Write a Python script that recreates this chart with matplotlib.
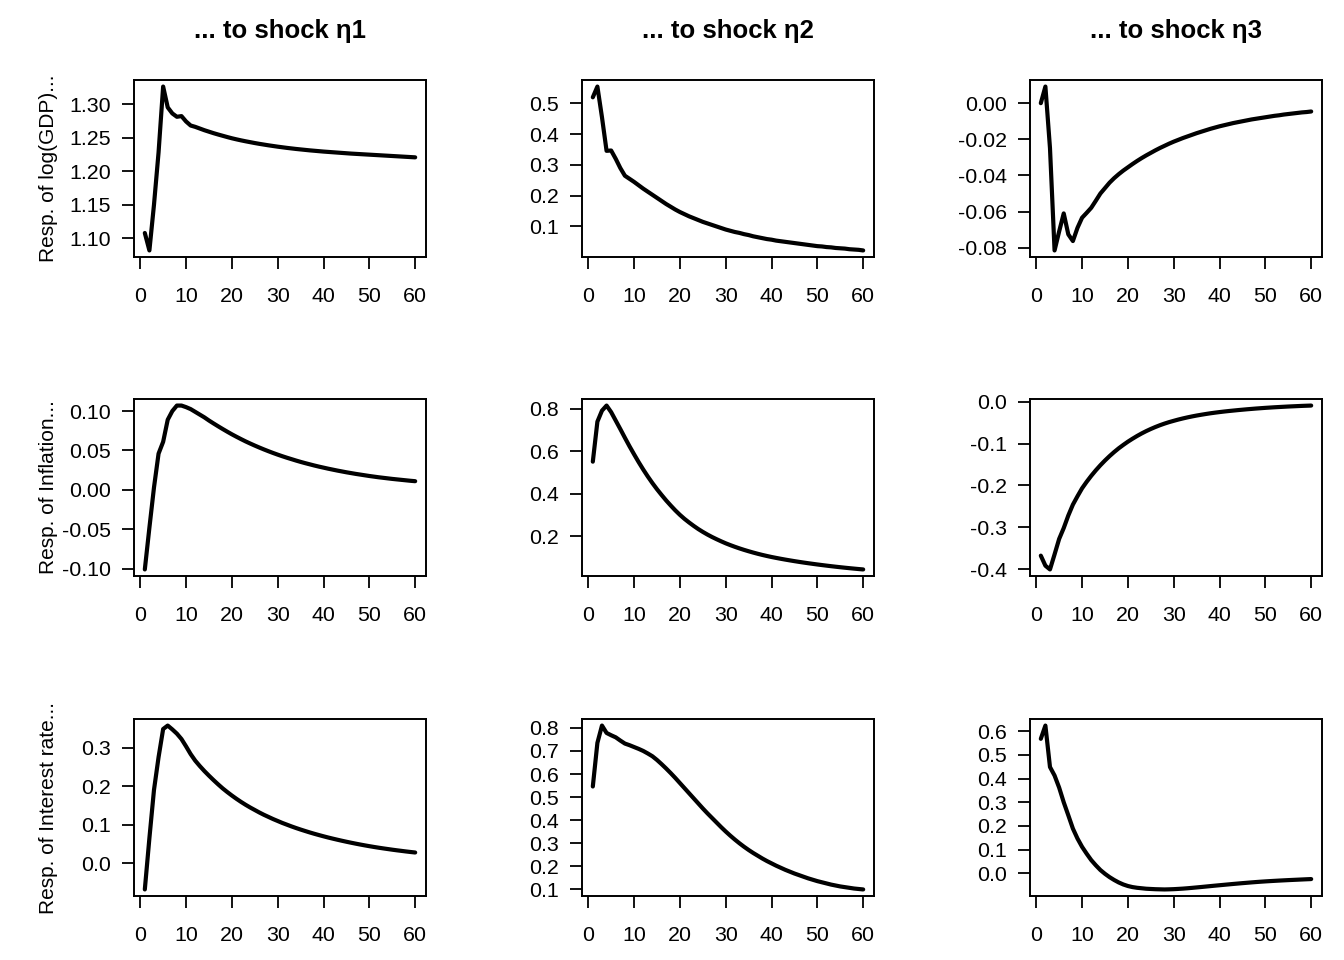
import matplotlib
matplotlib.use("Agg")
import matplotlib.pyplot as plt

plt.rcParams['font.family'] = ['Liberation Sans', 'DejaVu Sans']

# horizons 1..60
horizon = list(range(1, 61))

shock_titles = ["... to shock η1", "... to shock η2", "... to shock η3"]
row_labels = ["Resp. of log(GDP)...", "Resp. of Inflation...", "Resp. of Interest rate..."]

gdp_eta1 = [1.108, 1.082, 1.150, 1.228, 1.326, 1.295, 1.286, 1.281, 1.282, 1.274,
            1.268, 1.266, 1.2635, 1.261, 1.2588, 1.2566, 1.2546, 1.2527, 1.2508, 1.2490,
            1.2474, 1.2459, 1.2445, 1.2432, 1.2419, 1.2407, 1.2396, 1.2385, 1.2375, 1.2365,
            1.2356, 1.2347, 1.2339, 1.2331, 1.2324, 1.2317, 1.2310, 1.2304, 1.2298, 1.2292,
            1.2287, 1.2282, 1.2277, 1.2272, 1.2267, 1.2262, 1.2258, 1.2254, 1.2250, 1.2246,
            1.2242, 1.2238, 1.2234, 1.2230, 1.2226, 1.2222, 1.2218, 1.2214, 1.2210, 1.2206]
gdp_eta2 = [0.520, 0.555, 0.455, 0.346, 0.347, 0.320, 0.290, 0.265, 0.255, 0.245,
            0.234, 0.223, 0.213, 0.203, 0.193, 0.183, 0.173, 0.164, 0.155, 0.147,
            0.140, 0.133, 0.127, 0.121, 0.115, 0.110, 0.105, 0.100, 0.095, 0.090,
            0.086, 0.082, 0.079, 0.075, 0.072, 0.068, 0.065, 0.062, 0.059, 0.057,
            0.054, 0.052, 0.050, 0.048, 0.046, 0.044, 0.042, 0.040, 0.038, 0.036,
            0.035, 0.033, 0.032, 0.030, 0.029, 0.028, 0.026, 0.025, 0.024, 0.022]
gdp_eta3 = [0.000, 0.0092, -0.0248, -0.0815, -0.071, -0.061, -0.0726, -0.0763, -0.069, -0.0634,
            -0.0607, -0.0579, -0.054, -0.050, -0.047, -0.044, -0.0415, -0.0393, -0.0373, -0.0355,
            -0.0337, -0.0320, -0.0304, -0.0289, -0.0275, -0.0261, -0.0248, -0.0236, -0.0224, -0.0213,
            -0.0203, -0.0193, -0.0184, -0.0175, -0.0166, -0.0158, -0.0150, -0.0142, -0.0135, -0.0128,
            -0.0122, -0.0116, -0.0110, -0.0105, -0.0100, -0.0095, -0.0090, -0.0086, -0.0082, -0.0078,
            -0.0074, -0.0070, -0.0067, -0.0063, -0.0060, -0.0057, -0.0054, -0.0051, -0.0049, -0.0046]

infl_eta1 = [-0.101, -0.048, 0.003, 0.046, 0.061, 0.089, 0.100, 0.107, 0.107, 0.105,
             0.1025, 0.099, 0.0955, 0.092, 0.088, 0.0843, 0.0807, 0.0772, 0.0738, 0.0705,
             0.0674, 0.0644, 0.0615, 0.0588, 0.0562, 0.0537, 0.0513, 0.0490, 0.0468, 0.0447,
             0.0427, 0.0408, 0.0390, 0.0372, 0.0355, 0.0339, 0.0324, 0.0309, 0.0295, 0.0282,
             0.0269, 0.0257, 0.0245, 0.0234, 0.0223, 0.0213, 0.0203, 0.0194, 0.0185, 0.0176,
             0.0168, 0.0160, 0.0153, 0.0146, 0.0139, 0.0133, 0.0127, 0.0121, 0.0115, 0.0110]
infl_eta2 = [0.551, 0.740, 0.792, 0.816, 0.785, 0.745, 0.705, 0.664, 0.624, 0.586,
             0.549, 0.514, 0.481, 0.450, 0.421, 0.394, 0.368, 0.344, 0.321, 0.300,
             0.281, 0.264, 0.248, 0.233, 0.2195, 0.207, 0.1955, 0.185, 0.175, 0.1655,
             0.157, 0.149, 0.1415, 0.1345, 0.128, 0.1218, 0.116, 0.1106, 0.1056, 0.1009,
             0.0966, 0.0925, 0.0886, 0.0849, 0.0813, 0.0779, 0.0746, 0.0715, 0.0685, 0.0656,
             0.0628, 0.0601, 0.0575, 0.0550, 0.0526, 0.0503, 0.0481, 0.0460, 0.0440, 0.0421]
infl_eta3 = [-0.368, -0.392, -0.401, -0.365, -0.328, -0.302, -0.272, -0.246, -0.226, -0.207,
             -0.1915, -0.1772, -0.1640, -0.1518, -0.1405, -0.1300, -0.1203, -0.1113, -0.1032, -0.0955,
             -0.0885, -0.0819, -0.0758, -0.0702, -0.0651, -0.0604, -0.0561, -0.0522, -0.0487, -0.0456,
             -0.0426, -0.0399, -0.0374, -0.0351, -0.0330, -0.0311, -0.0293, -0.0276, -0.0261, -0.0247,
             -0.0234, -0.0222, -0.0211, -0.0200, -0.0190, -0.0180, -0.0171, -0.0162, -0.0154, -0.0146,
             -0.0139, -0.0132, -0.0126, -0.0120, -0.0114, -0.0109, -0.0104, -0.0099, -0.0095, -0.0091]

rate_eta1 = [-0.068, 0.065, 0.190, 0.275, 0.348, 0.357, 0.347, 0.336, 0.322, 0.303,
             0.283, 0.266, 0.252, 0.239, 0.227, 0.2155, 0.2045, 0.194, 0.1845, 0.1755,
             0.167, 0.159, 0.1515, 0.1445, 0.138, 0.1315, 0.1255, 0.120, 0.1145, 0.1095,
             0.1045, 0.100, 0.0955, 0.0913, 0.0873, 0.0835, 0.0798, 0.0763, 0.0730, 0.0698,
             0.0667, 0.0638, 0.0610, 0.0583, 0.0557, 0.0532, 0.0508, 0.0485, 0.0463, 0.0442,
             0.0422, 0.0403, 0.0385, 0.0368, 0.0351, 0.0335, 0.0320, 0.0305, 0.0291, 0.0278]
rate_eta2 = [0.546, 0.735, 0.810, 0.778, 0.768, 0.759, 0.745, 0.732, 0.725, 0.717,
             0.709, 0.700, 0.689, 0.677, 0.661, 0.643, 0.624, 0.604, 0.583, 0.561,
             0.539, 0.517, 0.495, 0.473, 0.451, 0.430, 0.410, 0.390, 0.370, 0.351,
             0.333, 0.316, 0.300, 0.285, 0.271, 0.258, 0.246, 0.234, 0.223, 0.213,
             0.203, 0.194, 0.185, 0.177, 0.169, 0.162, 0.155, 0.148, 0.142, 0.136,
             0.131, 0.126, 0.121, 0.117, 0.113, 0.110, 0.107, 0.104, 0.102, 0.100]
rate_eta3 = [0.568, 0.624, 0.449, 0.413, 0.362, 0.300, 0.245, 0.189, 0.147, 0.112,
             0.083, 0.056, 0.034, 0.014, -0.002, -0.016, -0.028, -0.0385, -0.047, -0.0535,
             -0.058, -0.061, -0.063, -0.065, -0.066, -0.067, -0.0675, -0.068, -0.0675, -0.0668,
             -0.0657, -0.0645, -0.0630, -0.0613, -0.0595, -0.0577, -0.0558, -0.0539, -0.0520, -0.0502,
             -0.0484, -0.0466, -0.0448, -0.0431, -0.0414, -0.0398, -0.0382, -0.0367, -0.0353, -0.0340,
             -0.0328, -0.0317, -0.0306, -0.0296, -0.0286, -0.0277, -0.0268, -0.0259, -0.0250, -0.0242]

x_ticks = [0, 10, 20, 30, 40, 50, 60]

y_ticks = [
    [[1.10, 1.15, 1.20, 1.25, 1.30], [0.1, 0.2, 0.3, 0.4, 0.5], [-0.08, -0.06, -0.04, -0.02, 0.00]],
    [[-0.10, -0.05, 0.00, 0.05, 0.10], [0.2, 0.4, 0.6, 0.8], [-0.4, -0.3, -0.2, -0.1, 0.0]],
    [[0.0, 0.1, 0.2, 0.3], [0.1, 0.2, 0.3, 0.4, 0.5, 0.6, 0.7, 0.8], [0.0, 0.1, 0.2, 0.3, 0.4, 0.5, 0.6]],
]
y_fmt = [["{:.2f}", "{:.1f}", "{:.2f}"],
         ["{:.2f}", "{:.1f}", "{:.1f}"],
         ["{:.1f}", "{:.1f}", "{:.1f}"]]

responses = [[gdp_eta1, gdp_eta2, gdp_eta3],
             [infl_eta1, infl_eta2, infl_eta3],
             [rate_eta1, rate_eta2, rate_eta3]]

W, H = 1344, 960
fig = plt.figure(figsize=(W / 100, H / 100), dpi=100)

col_left = [134, 582, 1030]
row_top = [80, 399, 719]
box_w, box_h = 292, 177

for r in range(3):
    for c in range(3):
        ax = fig.add_axes([col_left[c] / W, 1 - (row_top[r] + box_h) / H, box_w / W, box_h / H])
        ax.plot(horizon, responses[r][c], color='black', lw=3.0,
                solid_joinstyle='round', solid_capstyle='round')
        ax.margins(x=0.04, y=0.04)
        ax.set_xticks(x_ticks)
        ax.set_xticklabels([str(t) for t in x_ticks])
        ax.set_yticks(y_ticks[r][c])
        # R style labels: plain hyphen for minus, "-0.00" never appears
        ax.set_yticklabels([y_fmt[r][c].format(v + 0.0).replace("-0.00", "0.00").replace("-0.0", "0.0")
                            if abs(v) < 1e-12 else y_fmt[r][c].format(v) for v in y_ticks[r][c]])
        ax.tick_params(direction='out', length=8.6, width=1.3, labelsize=15.4, color='black')
        ax.tick_params(axis='x', pad=12.9)
        ax.tick_params(axis='y', pad=8)
        for s in ax.spines.values():
            s.set_linewidth(1.4)
            s.set_color('black')
        if c == 0:
            ax.set_ylabel(row_labels[r], fontsize=15, va='center')
            ax.yaxis.set_label_coords((49 - col_left[0]) / box_w, 0.5)
        if r == 0:
            fig.text((col_left[c] + box_w / 2) / W, 1 - 31 / H, shock_titles[c],
                     ha='center', va='center', fontsize=18.5, fontweight='bold')

fig.savefig("out.png", dpi=100)
